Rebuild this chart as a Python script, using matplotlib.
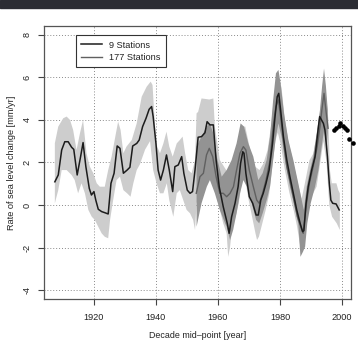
import matplotlib
matplotlib.use("Agg")
import matplotlib.pyplot as plt
from matplotlib.patches import Rectangle

plt.rcParams['font.family'] = ['Liberation Sans', 'DejaVu Sans']

# ---- 9 stations (black line) ----
yrs9 = [1907.4, 1908.5, 1909.6, 1910.6, 1911.7, 1912.8, 1913.5, 1914.6, 1915.7, 1916.5,
        1917.4, 1918.5, 1919.2, 1920.0, 1920.6, 1921.4, 1922.5, 1923.5, 1924.6, 1925.5,
        1926.5, 1927.5, 1928.4, 1929.5, 1930.7, 1931.6, 1932.5, 1933.8, 1934.6, 1935.7,
        1936.8, 1937.8, 1938.6, 1939.1, 1940.0, 1940.7, 1941.5, 1942.4, 1943.4, 1944.3,
        1945.4, 1946.1, 1947.2, 1948.3, 1949.0, 1950.1, 1951.0, 1951.8, 1952.6, 1953.6,
        1954.7, 1955.8, 1956.5, 1957.4, 1958.5, 1959.4, 1960.4, 1961.7, 1963.0, 1963.6,
        1964.4, 1965.5, 1966.5, 1967.3, 1968.0, 1968.4, 1969.0, 1970.1, 1971.2, 1972.3,
        1973.0, 1973.8, 1974.6, 1975.5, 1976.5, 1977.6, 1978.4, 1979.1, 1979.6, 1980.2,
        1981.1, 1982.2, 1983.2, 1984.3, 1985.4, 1986.5, 1987.3, 1987.7, 1988.4, 1989.1,
        1990.2, 1991.3, 1992.4, 1992.8, 1994.0, 1994.5, 1995.3, 1995.9, 1996.4, 1997.0,
        1998.1, 1999.1]
rate9 = [1.09, 1.41, 2.58, 2.97, 2.97, 2.71, 2.61, 1.41, 2.27, 2.93,
         1.80, 0.78, 0.47, 0.63, 0.23, -0.20, -0.31, -0.36, -0.42, 1.02,
         1.49, 2.77, 2.66, 1.49, 1.64, 1.77, 2.77, 2.89, 3.05, 3.68,
         4.07, 4.49, 4.62, 4.15, 2.89, 1.64, 1.17, 1.64, 2.35, 1.64,
         0.63, 1.80, 1.88, 2.27, 1.49, 0.70, 0.55, 0.63, 1.64, 3.18,
         3.21, 3.39, 3.91, 3.76, 3.76, 2.11, 0.86, -0.08, -0.86, -1.33,
         -0.55, 0.08, 0.86, 1.96, 2.50, 2.43, 1.49, 0.39, 0.08, -0.47,
         -0.47, 0.23, 0.55, 1.02, 1.64, 2.89, 4.15, 5.08, 5.24, 4.46,
         3.21, 2.11, 1.33, 0.55, -0.23, -0.86, -1.25, -1.20, 0.08, 0.86,
         1.64, 2.27, 3.68, 4.15, 3.83, 3.52, 2.27, 1.02, 0.23, 0.08,
         0.05, -0.23]

# ---- 9 stations uncertainty band (light grey) ----
band9_up_yrs = [1907.4, 1908.5, 1910.1, 1911.2, 1912.3, 1913.3, 1914.4, 1915.5, 1916.5, 1917.6,
                1918.7, 1919.8, 1920.9, 1921.9, 1923.5, 1924.6, 1925.7, 1927.1, 1927.8, 1928.6,
                1929.5, 1930.5, 1932.2, 1933.8, 1935.4, 1937.0, 1938.3, 1938.9, 1939.7, 1940.4,
                1941.3, 1942.4, 1943.4, 1944.3, 1945.4, 1946.7, 1947.7, 1948.6, 1949.4, 1950.4,
                1951.5, 1952.6, 1953.1, 1953.6, 1954.7, 1955.8, 1957.2, 1958.5, 1959.0, 1960.6,
                1963.3, 1965.0, 1966.6, 1967.7, 1968.8, 1970.4, 1972.0, 1973.4, 1974.7, 1976.0,
                1977.1, 1978.5, 1979.5, 1980.5, 1981.5, 1982.7, 1984.3, 1985.8, 1987.0, 1988.0,
                1989.5, 1990.7, 1992.0, 1993.0, 1994.0, 1995.0, 1995.6, 1996.1, 1996.7, 1998.2,
                1998.8, 1999.3]
band9_up = [2.90, 3.68, 4.07, 4.15, 3.99, 3.52, 2.58, 3.37, 3.99, 2.43,
            1.80, 1.49, 1.02, 0.86, 0.86, 1.64, 2.27, 3.37, 3.91, 3.52,
            2.43, 2.74, 3.05, 3.83, 5.08, 5.55, 5.79, 5.63, 3.68, 2.74,
            2.43, 2.89, 3.44, 2.74, 2.27, 2.89, 3.05, 3.21, 2.43, 1.64,
            1.49, 2.11, 4.30, 4.37, 5.00, 4.98, 4.95, 5.00, 3.68, 2.11,
            1.49, 1.64, 2.74, 3.68, 3.68, 2.58, 1.80, 1.64, 1.96, 2.58,
            3.68, 5.60, 6.10, 5.50, 4.10, 3.00, 2.00, 1.00, 0.30, 1.00,
            2.10, 2.40, 3.40, 4.40, 5.80, 5.00, 4.00, 1.64, 1.02, 1.02,
            0.70, 0.55]
band9_lo_yrs = [1907.4, 1908.5, 1909.6, 1911.2, 1912.8, 1913.8, 1914.9, 1916.0, 1917.1, 1918.2,
                1919.3, 1920.3, 1921.4, 1922.5, 1923.5, 1924.6, 1925.2, 1926.2, 1927.3, 1928.4,
                1929.5, 1930.7, 1931.8, 1932.7, 1933.8, 1934.8, 1936.5, 1938.1, 1939.1, 1940.2,
                1941.3, 1942.4, 1943.5, 1944.3, 1945.6, 1946.7, 1947.7, 1948.8, 1949.9, 1951.0,
                1952.0, 1952.6, 1953.1, 1954.2, 1955.8, 1957.4, 1959.0, 1960.1, 1961.7, 1962.8,
                1963.3, 1963.9, 1964.6, 1965.7, 1966.7, 1967.8, 1968.8, 1969.9, 1971.0, 1972.1,
                1972.6, 1973.2, 1974.3, 1975.4, 1976.5, 1977.5, 1978.5, 1979.3, 1980.3, 1981.5,
                1983.0, 1984.5, 1985.5, 1986.5, 1987.5, 1988.5, 1989.5, 1990.7, 1991.8, 1993.0,
                1994.0, 1995.0, 1995.9, 1996.8, 1998.3, 1999.3]
band9_lo = [0.08, 0.70, 1.64, 1.64, 1.41, 1.17, 0.55, 1.02, 0.55, -0.23,
            -0.55, -0.70, -1.02, -1.33, -1.49, -1.56, -0.70, 0.23, 1.17, 1.33,
            0.70, 0.55, 0.39, 1.02, 1.64, 1.90, 2.60, 3.00, 1.64, 1.02,
            0.55, 0.55, 1.02, 0.23, -0.55, 0.55, 0.70, 0.23, -0.23, -0.39,
            -0.70, -1.17, 0.08, 0.55, 0.86, 1.33, 0.70, 0.08, -0.86, -1.33,
            -2.43, -1.96, -1.02, -0.55, 0.08, 1.17, 1.17, 0.23, -0.55, -1.33,
            -1.64, -1.49, -0.86, -0.23, 0.50, 1.80, 3.00, 3.40, 2.80, 1.70,
            0.60, -0.30, -1.00, -1.90, -1.90, -0.60, 0.20, 0.55, 0.86, 2.00,
            3.00, 2.00, 0.00, -0.55, -0.86, -1.17]

# ---- 177 stations (grey line) ----
yrs177 = [1953.0, 1954.2, 1955.3, 1956.3, 1957.2, 1958.3, 1959.4, 1960.6, 1961.7, 1962.8,
          1963.9, 1965.0, 1966.0, 1967.1, 1968.2, 1969.0, 1970.1, 1971.4, 1972.5, 1973.3,
          1974.4, 1975.5, 1976.8, 1977.8, 1978.7, 1979.5, 1980.2, 1981.1, 1982.2, 1983.4,
          1984.5, 1985.6, 1986.7, 1987.5, 1988.4, 1989.5, 1990.7, 1992.0, 1992.9, 1993.5,
          1994.2, 1994.8, 1995.5]
rate177 = [0.55, 1.33, 1.49, 2.35, 2.66, 2.27, 1.33, 0.55, 0.55, 0.39,
           0.55, 0.86, 1.64, 2.43, 2.74, 2.58, 1.64, 0.86, 0.23, 0.08,
           0.55, 1.17, 2.11, 3.68, 4.62, 4.93, 4.15, 3.05, 1.80, 1.02,
           0.23, -0.55, -1.02, -1.33, -0.08, 1.02, 1.80, 2.74, 3.68, 4.46,
           5.24, 4.46, 3.60]

# ---- 177 stations uncertainty band (dark grey) ----
band177_up_yrs = [1953.1, 1954.7, 1956.4, 1957.4, 1958.5, 1959.6, 1961.2, 1962.8, 1963.9, 1964.4,
                  1966.0, 1967.3, 1968.4, 1969.8, 1971.4, 1973.0, 1974.4, 1975.7, 1976.8, 1977.8,
                  1978.7, 1979.5, 1980.2, 1981.3, 1982.7, 1984.3, 1985.9, 1987.0, 1987.7, 1988.6,
                  1989.7, 1990.7, 1992.0, 1992.9, 1993.6, 1994.2, 1994.8, 1995.4]
band177_up = [2.74, 3.21, 3.68, 3.83, 3.37, 2.27, 1.33, 1.64, 1.96, 2.11,
              2.89, 3.83, 3.68, 2.89, 2.27, 1.17, 1.49, 2.11, 3.21, 4.93,
              6.18, 6.34, 5.71, 4.30, 3.05, 2.11, 1.02, 0.23, -0.23, 0.86,
              1.64, 2.27, 3.52, 4.46, 5.60, 6.40, 5.60, 4.46]
band177_lo_yrs = [1953.1, 1954.7, 1956.4, 1957.4, 1959.0, 1960.6, 1962.3, 1962.8, 1963.9, 1964.9,
                  1966.0, 1967.1, 1968.2, 1969.3, 1970.9, 1972.3, 1973.3, 1974.4, 1975.7, 1976.8,
                  1977.8, 1978.7, 1979.5, 1980.5, 1981.6, 1983.2, 1984.8, 1985.9, 1986.6, 1987.4,
                  1988.1, 1988.8, 1989.9, 1991.3, 1992.4, 1993.3, 1994.2, 1995.0, 1995.4]
band177_lo = [-1.02, 0.08, 0.86, 1.17, 0.55, -0.23, -0.86, -1.02, -1.64, -1.17,
              -0.39, 0.55, 1.17, 0.86, 0.08, -0.70, -0.86, -0.39, 0.23, 0.86,
              2.11, 3.21, 3.83, 3.21, 2.11, 0.86, -0.08, -0.86, -2.43, -2.20,
              -1.96, -0.86, 0.08, 0.86, 1.64, 2.60, 3.50, 2.80, 3.40]

# ---- recent points (black dots) ----
dot_yrs = [1997.5, 1998.2, 1998.9, 1999.5, 2000.2, 2001.0, 2001.5, 2002.2, 2003.4]
dot_rate = [3.52, 3.63, 3.72, 3.84, 3.72, 3.63, 3.52, 3.10, 2.90]

x_ticks = [1920, 1940, 1960, 1980, 2000]
y_ticks = [-4, -2, 0, 2, 4, 6, 8]
legend_labels = ["9 Stations", "177 Stations"]

fig = plt.figure(figsize=(3.58, 3.41), dpi=100)
fig.patches.append(Rectangle((0, 1 - 8 / 341), 1, 8 / 341, transform=fig.transFigure,
                             color='#2b2c33', zorder=0))
ax = fig.add_axes([44 / 358, 1 - 299 / 341, 307 / 358, 273 / 341])

ax.fill(band9_up_yrs + band9_lo_yrs[::-1], band9_up + band9_lo[::-1],
        color='#cdcdcd', lw=0, zorder=1)
ax.fill(band177_up_yrs + band177_lo_yrs[::-1], band177_up + band177_lo[::-1],
        color='#939393', lw=0, zorder=2)
l2, = ax.plot(yrs177, rate177, color='#606060', lw=1.0, zorder=3)
l1, = ax.plot(yrs9, rate9, color='#1c1c1c', lw=1.1, zorder=4)
ax.plot(dot_yrs, dot_rate, 'o', color='black', ms=3.3, mec='none', clip_on=False, zorder=5)

ax.set_xlim(1903.9, 2002.9)
ax.set_ylim(-4.41, 8.40)
ax.set_xticks(x_ticks)
ax.set_yticks(y_ticks)
ax.set_xticklabels([str(v) for v in x_ticks], fontsize=6.6)
ax.set_yticklabels([str(v) for v in y_ticks], fontsize=6.6, rotation=90, va='center')
ax.tick_params(length=4, width=0.8, color='#444444', pad=6, labelcolor='#222222')
ax.tick_params(axis='y', pad=5)
ax.grid(True, linestyle=(0, (1, 2)), color='#8a8a8a', lw=0.7)
ax.set_axisbelow(True)
for s in ax.spines.values():
    s.set_color('#555555')
    s.set_linewidth(0.9)

fig.text((44 + 307 / 2) / 358, 1 - 335.5 / 341, "Decade mid–point [year]", fontsize=6.4,
         color='#222222', ha='center', va='center')
ax.set_ylabel("Rate of sea level change [mm/yr]", fontsize=6.6, labelpad=5, color='#222222')

leg = ax.legend([l1, l2], legend_labels, loc='upper left', bbox_to_anchor=(0.104, 0.967),
                borderaxespad=0, fontsize=6.6, frameon=True, fancybox=False,
                edgecolor='#333333', framealpha=1, handlelength=2.2, borderpad=0.6,
                labelspacing=0.35, handletextpad=0.8)
leg.get_frame().set_linewidth(0.8)
for t in leg.get_texts():
    t.set_color('#222222')

fig.savefig("out.png", dpi=100)
